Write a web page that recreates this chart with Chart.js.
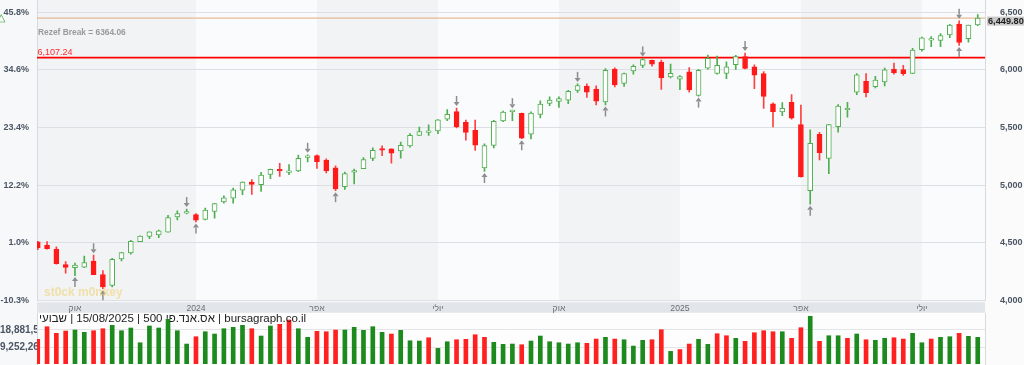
<!DOCTYPE html>
<html><head><meta charset="utf-8">
<script src="https://cdn.jsdelivr.net/npm/chart.js@4.4.1/dist/chart.umd.min.js"></script>
<style>
html,body{margin:0;padding:0;background:#f7f8fa;width:1024px;height:365px;overflow:hidden;font-family:"Liberation Sans",Arial,sans-serif;}
#wrap{position:relative;width:1024px;height:365px;}
#c1{position:absolute;left:0;top:0;}
#c2{position:absolute;left:0;top:313px;}
#title{position:absolute;left:39px;top:311.5px;font-size:11.5px;line-height:13px;color:#222;white-space:nowrap;}
#wm{position:absolute;left:44px;top:285px;font-weight:bold;font-size:12px;color:rgba(240,205,90,0.5);white-space:nowrap;}
#tri{position:absolute;left:-3px;top:12px;font-size:11px;line-height:11px;color:#3aa83a;}
</style></head>
<body><div id="wrap">
<canvas id="c1" width="1024" height="313"></canvas>
<canvas id="c2" width="1024" height="52"></canvas>
<div id="tri">△</div>
<div id="wm">st0ck m0nkey</div>
<div id="title" dir="rtl">bursagraph.co.il | אס.אנד.פי 500 | 15/08/2025 | שבועי</div>
</div>
<script>
// ---- data (weekly, 08/09/2023 .. 15/08/2025) ----
const opens = [4510,4480,4445,4311,4284,4289,4342,4225,4130,4360,
4412,4511,4555,4568,4593,4725,4758,4745,4703,4772,
4856,4888,4957,5027,5004,5093,5132,5111,5123,5241,
5257,5218,5150,4988,5114,5143,5233,5311,5315,5298,
5341,5432,5459,5471,5572,5638,5545,5476,5151,5345,
5557,5639,5623,5442,5615,5709,5727,5737,5822,5859,
5834,5723,6008,5883,5992,6040,6083,6069,5940,5920,
5983,5778,6015,5969,5970,6046,6115,6026,5969,5705,
5635,5718,5527,4953,5442,5232,5508,5655,5807,5902,
5854,5897,6005,6004,5969,6175,6259,6255,6304,6397,
6271,6390];
const highs = [4514,4511,4465,4338,4324,4385,4393,4259,4366,4418,
4521,4561,4595,4610,4738,4778,4793,4755,4802,4843,
4907,4975,5030,5048,5111,5140,5190,5180,5261,5264,
5264,5230,5169,5114,5139,5239,5325,5342,5315,5375,
5448,5505,5523,5570,5656,5670,5566,5566,5358,5562,
5643,5651,5626,5636,5733,5767,5767,5823,5879,5879,
5863,6012,6018,5973,6045,6100,6086,6085,6050,5951,
6021,6006,6128,6121,6070,6127,6147,6044,5986,5715,
5716,5787,5695,5481,5459,5528,5700,5720,5969,5968,
5944,6017,6060,6040,6187,6284,6290,6315,6395,6427,
6390,6481];
const lows = [4442,4446,4316,4238,4216,4284,4224,4103,4117,4344,
4402,4511,4537,4546,4593,4700,4751,4682,4699,4715,
4845,4845,4918,4920,4947,5057,5077,5092,5117,5203,
5146,5107,4953,4963,5011,5143,5214,5257,5191,5234,
5331,5432,5433,5448,5560,5497,5390,5302,5119,5323,
5552,5560,5403,5402,5583,5690,5674,5707,5804,5762,
5696,5696,5853,5857,5964,6020,6033,5832,5930,5829,
5808,5773,6006,5963,5924,6004,6009,5837,5666,5505,
5604,5572,5069,4835,5220,5101,5460,5590,5786,5767,
5844,5862,5963,5952,5967,6163,6201,6201,6281,6212,
6240,6383];
const closes = [4457,4450,4320,4288,4308,4328,4224,4117,4358,4415,
4514,4559,4595,4604,4719,4755,4770,4697,4784,4840,
4891,4959,5027,5006,5089,5137,5124,5117,5234,5254,
5204,5123,4967,5100,5128,5223,5303,5305,5278,5347,
5432,5465,5461,5567,5615,5505,5459,5347,5344,5554,
5635,5648,5408,5626,5703,5738,5751,5815,5865,5808,
5729,5996,5871,5969,6032,6090,6051,5931,5971,5942,
5827,5997,6101,6041,6026,6115,6013,5955,5770,5639,
5668,5581,5074,5363,5283,5525,5687,5660,5958,5803,
5912,6000,5977,5968,6173,6279,6260,6297,6389,6238,
6389,6449.80];
// volume in millions
const volumes = [13.69,20.71,17.03,18.31,18.87,17.59,18.48,19.59,21.48,18.48,
19.98,11.80,21.10,19.98,24.82,18.48,11.08,15.14,17.92,16.64,
19.59,20.37,21.48,19.59,15.53,21.10,22.04,24.43,19.59,14.81,
18.15,17.92,18.87,18.87,20.37,18.70,20.71,17.59,16.64,18.70,
12.91,12.75,14.58,8.68,12.36,13.47,13.69,16.25,14.81,12.02,
10.91,11.08,10.69,12.75,15.53,12.36,11.80,11.08,11.80,11.47,
13.86,14.81,13.86,13.47,9.96,13.14,13.47,19.04,7.01,8.02,
11.08,13.69,10.91,16.81,15.70,14.25,12.58,17.37,18.48,17.92,
17.92,14.25,20.15,26.49,12.58,15.70,15.70,14.25,16.64,13.47,
13.14,14.25,14.58,13.86,17.03,11.80,13.86,14.81,15.14,17.03,
15.36,14.81];
const volDir = ("dddduudduu"+"uuuuuuuduu"+"uuuduudduu"+"ddduuuuudu"+"uuduuddddu"+
  "uuduuuuuud"+"duduuuddud"+"duuddudddd"+"udduduudud"+"uudduuduud"+"uu").split('');
const quarterIdx = [4,17,30,43,56,69,82,95];
const quarterLabels = ['אוק','2024','אפר','יולי','אוק','2025','אפר','יולי'];
const priceTicks = [4000,4500,5000,5500,6000,6500];
const pctLabels = ['-10.3%','1.0%','12.2%','23.4%','34.6%','45.8%'];
const volTicks = [9252265,18881510];
const downArrows = [6,16,29,45,51,58,65,76,99];
const upArrows = [4,7,17,32,48,52,61,71,83,99];
const lastPrice = 6449.80;
const levelLine = 6107.24;
const rezefBreak = 6364.06;

// ---- styles ----
const FONT = '"Liberation Sans", Arial, sans-serif';
const GREEN = '#4fae4f', RED = '#ff1a1a';
const XMIN = -0.08, XMAX = 101.78;
const idx = opens.map((_, i) => i);
const isUp = idx.map(i => closes[i] >= opens[i]);

function zeroPad(s){ s.paddingTop = 0; s.paddingBottom = 0; s.paddingLeft = 0; s.paddingRight = 0; }

function drawArrow(ctx, x, tipY, dir){
  const len = 10, hw = 3, hh = 4;
  ctx.strokeStyle = '#8d8d8d'; ctx.fillStyle = '#8d8d8d'; ctx.lineWidth = 1.5;
  ctx.beginPath(); ctx.moveTo(x, tipY - dir*len); ctx.lineTo(x, tipY - dir*hh); ctx.stroke();
  ctx.beginPath(); ctx.moveTo(x, tipY); ctx.lineTo(x - hw, tipY - dir*hh); ctx.lineTo(x + hw, tipY - dir*hh); ctx.closePath(); ctx.fill();
}

const decor = {
  id: 'decor',
  beforeDraw(chart){
    const {ctx, chartArea: a, scales: {x}} = chart;
    ctx.save();
    ctx.fillStyle = '#f7f8fa'; ctx.fillRect(0, 0, chart.width, chart.height);
    const b = [a.left].concat(quarterIdx.slice(1).map(v => x.getPixelForValue(v))).concat([a.right]);
    for (let k = 0; k < b.length - 1; k++){
      ctx.fillStyle = k % 2 === 0 ? '#f2f3f5' : '#fafbfc';
      ctx.fillRect(b[k], a.top, b[k+1] - b[k], a.bottom - a.top);
    }
    ctx.fillStyle = '#fbfbfc'; ctx.fillRect(a.right, 0, chart.width - a.right, chart.height);
    ctx.fillStyle = '#e2e5e9'; ctx.fillRect(a.left, a.bottom + 1.8, a.right - a.left, 10.4);
    ctx.restore();
  },
  beforeDatasetsDraw(chart){
    const {ctx, chartArea: a, scales: {y}} = chart;
    ctx.save();
    const yl = y.getPixelForValue(lastPrice);
    ctx.strokeStyle = '#e3ab7d'; ctx.lineWidth = 1;
    ctx.beginPath(); ctx.moveTo(a.left, yl); ctx.lineTo(a.right, yl); ctx.stroke();
    const yr = y.getPixelForValue(levelLine);
    ctx.strokeStyle = '#ff0000'; ctx.lineWidth = 1.6;
    ctx.beginPath(); ctx.moveTo(a.left, yr); ctx.lineTo(a.right, yr); ctx.stroke();
    ctx.textBaseline = 'middle'; ctx.textAlign = 'left';
    ctx.fillStyle = '#ff2a2a'; ctx.font = '9px ' + FONT;
    ctx.fillText(levelLine.toLocaleString('en-US', {minimumFractionDigits: 2}), a.left + 0.5, yr - 5);
    ctx.fillStyle = '#9a9a9a'; ctx.font = 'bold 8.4px ' + FONT;
    ctx.fillText('Rezef Break = ' + rezefBreak.toFixed(2), a.left + 1, 33);
    ctx.restore();
  },
  afterDatasetsDraw(chart){
    const {ctx, scales: {x, y}} = chart;
    ctx.save();
    downArrows.forEach(i => drawArrow(ctx, x.getPixelForValue(i), y.getPixelForValue(highs[i]) - 2, 1));
    upArrows.forEach(i => drawArrow(ctx, x.getPixelForValue(i), y.getPixelForValue(lows[i]) + 1.5, -1));
    const yl = y.getPixelForValue(lastPrice);
    ctx.fillStyle = '#c9c9c9'; ctx.fillRect(987, yl - 1.5, 37, 9);
    ctx.fillStyle = '#1e1e1e'; ctx.font = 'bold 9.2px ' + FONT;
    ctx.textBaseline = 'middle'; ctx.textAlign = 'left';
    ctx.fillText(lastPrice.toLocaleString('en-US', {minimumFractionDigits: 2}), 988, yl + 3);
    ctx.restore();
  }
};

const YMIN = 4000, YMAX = 6606.7;
new Chart(document.getElementById('c1'), {
  type: 'bar',
  data: {
    datasets: [
      { data: idx.map(i => ({x: i, y: [lows[i], highs[i]]})),
        backgroundColor: idx.map(i => isUp[i] ? GREEN : '#ff4040'),
        barThickness: 1, borderWidth: 0, grouped: false, order: 2 },
      { data: idx.map(i => ({x: i, y: [opens[i], closes[i]]})),
        backgroundColor: idx.map(i => isUp[i] ? '#ffffff' : RED),
        borderColor: idx.map(i => isUp[i] ? GREEN : RED),
        borderWidth: 1, borderSkipped: false, barThickness: 5, minBarLength: 1.5,
        grouped: false, order: 1 }
    ]
  },
  options: {
    responsive: false, animation: false, events: [],
    layout: {padding: 0},
    plugins: {legend: {display: false}, tooltip: {enabled: false}},
    scales: {
      x: { type: 'linear', min: XMIN, max: XMAX, offset: false,
        afterBuildTicks(s){ s.ticks = quarterIdx.map(v => ({value: v})); },
        afterFit(s){ s.height = 12.5; zeroPad(s); },
        ticks: { autoSkip: false, maxRotation: 0, padding: 2.5,
          callback: v => quarterLabels[quarterIdx.indexOf(v)] || '',
          font: {family: FONT, size: 8.6}, color: '#6b6f75' },
        grid: {display: false, drawTicks: false}, border: {display: false} },
      y: { position: 'right', min: YMIN, max: YMAX,
        afterBuildTicks(s){ s.ticks = priceTicks.map(v => ({value: v})); },
        afterFit(s){ s.width = 39; zeroPad(s); },
        ticks: { padding: 15, callback: v => v.toLocaleString('en-US'),
          font: {family: FONT, size: 9, weight: 'bold'}, color: '#4b5563' },
        grid: {color: '#dcdfe3', drawTicks: false},
        border: {display: true, color: '#d6d9de'} },
      yl: { position: 'left', min: YMIN, max: YMAX,
        afterBuildTicks(s){ s.ticks = priceTicks.map(v => ({value: v})); },
        afterFit(s){ s.width = 37; zeroPad(s); },
        ticks: { padding: 8, callback: v => pctLabels[priceTicks.indexOf(v)],
          font: {family: FONT, size: 9, weight: 'bold'}, color: '#4b5563' },
        grid: {display: false, drawTicks: false},
        border: {display: true, color: '#d6d9de'} }
    }
  },
  plugins: [decor]
});

const volBg = {
  id: 'volBg',
  beforeDraw(chart){
    const {ctx, chartArea: a} = chart;
    ctx.save();
    ctx.fillStyle = '#f7f8fa'; ctx.fillRect(0, 0, chart.width, chart.height);
    ctx.fillStyle = '#fdfdfe'; ctx.fillRect(a.left, 0, a.right - a.left, chart.height);
    ctx.fillStyle = '#fbfbfc'; ctx.fillRect(a.right, 0, chart.width - a.right, chart.height);
    ctx.restore();
  }
};
new Chart(document.getElementById('c2'), {
  type: 'bar',
  data: { datasets: [{
    data: idx.map(i => ({x: i, y: volumes[i] * 1e6})),
    backgroundColor: idx.map(i => volDir[i] === 'u' ? '#1c8a1c' : '#ff2020'),
    barThickness: 4, borderWidth: 0 }] },
  options: {
    responsive: false, animation: false, events: [],
    layout: {padding: {bottom: 1}},
    plugins: {legend: {display: false}, tooltip: {enabled: false}},
    scales: {
      x: { type: 'linear', min: XMIN, max: XMAX, offset: false, display: false },
      y: { position: 'left', min: 0, max: 28.32e6,
        afterBuildTicks(s){ s.ticks = volTicks.map(v => ({value: v})); },
        afterFit(s){ s.width = 37; zeroPad(s); },
        ticks: { padding: 0, crossAlign: 'far', callback: v => v.toLocaleString('en-US'),
          font: {family: FONT, size: 10, weight: 'bold'}, color: '#4b5563' },
        grid: {color: '#e3e5e9', drawTicks: false},
        border: {display: true, color: '#d6d9de'} },
      yr: { position: 'right', min: 0, max: 28.32e6,
        afterFit(s){ s.width = 39; zeroPad(s); },
        ticks: {display: false}, grid: {display: false, drawTicks: false},
        border: {display: true, color: '#d6d9de'} }
    }
  },
  plugins: [volBg]
});
</script>
</body></html>
